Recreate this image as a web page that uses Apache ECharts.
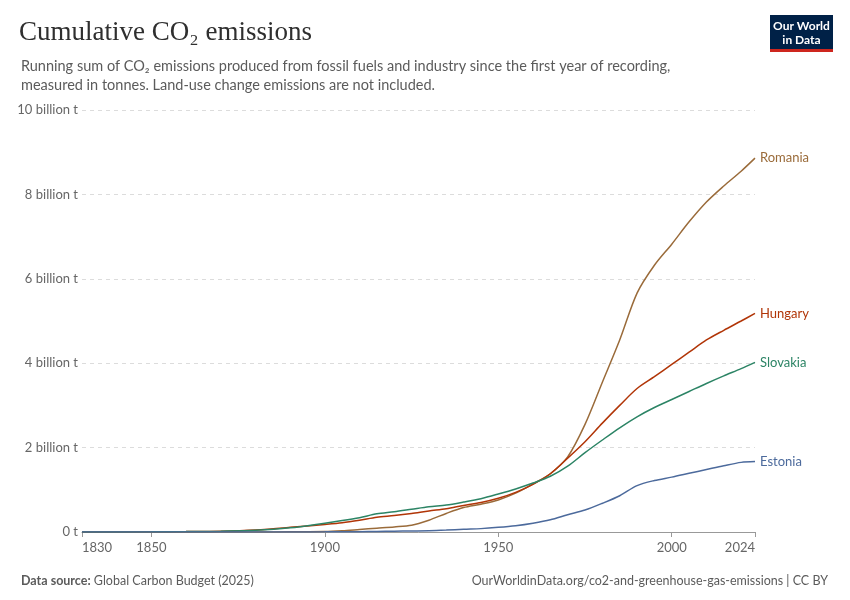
<!DOCTYPE html>
<html>
<head>
<meta charset="utf-8">
<script src="https://cdn.jsdelivr.net/npm/echarts@6/dist/echarts.min.js"></script>
<style>
html,body{margin:0;padding:0;background:#fff;}
#chart{width:850px;height:600px;}
</style>
</head>
<body>
<div id="chart"></div>
<script>
const years = [1830,1850,1860,1870,1880,1890,1900,1905,1910,1915,1920,1925,1930,1935,1940,1945,1950,1955,1960,1965,1970,1975,1980,1985,1990,1995,2000,2005,2010,2015,2020,2024];
const romania = [0,0,0,0,0,0.005,0.01,0.03,0.06,0.09,0.12,0.16,0.28,0.44,0.58,0.66,0.76,0.92,1.14,1.38,1.78,2.55,3.55,4.55,5.66,6.32,6.82,7.35,7.82,8.2,8.55,8.86];
const hungary = [0,0.005,0.01,0.02,0.05,0.11,0.18,0.22,0.28,0.35,0.39,0.44,0.50,0.55,0.63,0.70,0.80,0.94,1.13,1.38,1.75,2.14,2.58,3.0,3.40,3.68,3.97,4.26,4.55,4.78,5.0,5.18];
const slovakia = [0,0.005,0.01,0.02,0.04,0.10,0.21,0.27,0.34,0.43,0.48,0.54,0.60,0.64,0.71,0.79,0.90,1.02,1.16,1.32,1.56,1.88,2.18,2.47,2.73,2.95,3.14,3.33,3.52,3.70,3.87,4.02];
const estonia = [0,0,0,0,0,0.001,0.003,0.005,0.008,0.012,0.02,0.025,0.03,0.045,0.065,0.08,0.11,0.15,0.21,0.29,0.41,0.52,0.68,0.86,1.10,1.22,1.30,1.39,1.48,1.57,1.65,1.67];
const xTicks = [1830,1850,1900,1950,2000,2024];

const seriesDefs = [
  {name:'Romania', data:romania, color:'#9A6B3A'},
  {name:'Hungary', data:hungary, color:'#B13507'},
  {name:'Slovakia', data:slovakia, color:'#2C8465'},
  {name:'Estonia', data:estonia, color:'#4C6A9C'}
];

const chart = echarts.init(document.getElementById('chart'));
chart.setOption({
  backgroundColor:'#fff',
  animation:false,
  title:[
    {text:'Cumulative CO\u2082 emissions', left:14, top:14,
     textStyle:{fontFamily:'Liberation Serif', fontSize:27, fontWeight:'normal', color:'#2f2f2f'}},
    {text:'Running sum of CO\u2082 emissions produced from fossil fuels and industry since the first year of recording,\nmeasured in tonnes. Land-use change emissions are not included.',
     left:16, top:52,
     textStyle:{fontFamily:'Lato', fontSize:14.5, fontWeight:'normal', color:'#5b5b5b', lineHeight:19}},
    {text:'{b|Data source:} {n|Global Carbon Budget (2025)}', left:16, top:569,
     textStyle:{fontFamily:'Lato', fontSize:12.5, fontWeight:'normal', color:'#5b5b5b',
       rich:{b:{fontFamily:'Lato', fontSize:12.5, fontWeight:'bold', color:'#5b5b5b'},
             n:{fontFamily:'Lato', fontSize:12.5, fontWeight:'normal', color:'#5b5b5b'}}}},
    {text:'OurWorldinData.org/co2-and-greenhouse-gas-emissions | CC BY', right:17, top:569,
     textStyle:{fontFamily:'Lato', fontSize:12.5, fontWeight:'normal', color:'#5b5b5b'}}
  ],
  graphic:[
    {type:'rect', left:770, top:15, shape:{width:63, height:35}, style:{fill:'#002147'}},
    {type:'rect', left:770, top:49, shape:{width:63, height:3}, style:{fill:'#CE261E'}},
    {type:'text', x:801.5, y:33, style:{text:'Our World\nin Data', fill:'#fff', font:'bold 12px Lato', lineHeight:14, align:'center', verticalAlign:'middle'}}
  ],
  grid:{left:82, right:95, top:110, bottom:68, containLabel:false},
  xAxis:{
    type:'value', min:1830, max:2024,
    axisLine:{show:true, lineStyle:{color:'#999'}},
    axisTick:{show:true, customValues:xTicks, length:5, lineStyle:{color:'#999'}},
    axisLabel:{customValues:xTicks, color:'#666', fontFamily:'Lato', fontSize:13, margin:9,
      alignMinLabel:'left', alignMaxLabel:'right', formatter:v=>String(v)},
    splitLine:{show:false}
  },
  yAxis:{
    type:'value', min:0, max:10, interval:2,
    axisLine:{show:false}, axisTick:{show:false},
    axisLabel:{color:'#666', fontFamily:'Lato', fontSize:13, margin:4,
      formatter:v=> v===0 ? '0 t' : v+' billion t'},
    splitLine:{lineStyle:{color:'#dcdcdc', type:[4,4]}}
  },
  series: seriesDefs.map(s=>({
    name:s.name, type:'line', smooth:0.3, showSymbol:false,
    data: years.map((y,i)=>[y, s.data[i]]),
    lineStyle:{color:s.color, width:1.5},
    itemStyle:{color:s.color},
    endLabel:{show:true, formatter:'{a}', color:s.color, fontFamily:'Lato', fontSize:13, distance:5},
    emphasis:{disabled:true}
  }))
});
</script>
</body>
</html>
